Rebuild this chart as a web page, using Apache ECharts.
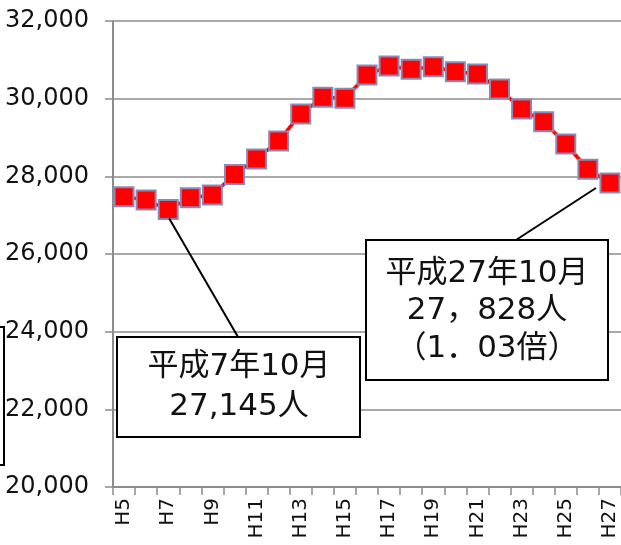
<!DOCTYPE html>
<html>
<head>
<meta charset="utf-8">
<script src="https://cdn.jsdelivr.net/npm/echarts@6/dist/echarts.min.js"></script>
<style>html,body{margin:0;padding:0;background:#fff}#c{width:621px;height:545px}</style>
</head>
<body>
<div id="c"></div>
<script>
const categories = ['H5','H6','H7','H8','H9','H10','H11','H12','H13','H14','H15','H16','H17','H18','H19','H20','H21','H22','H23','H24','H25','H26','H27'];
const population = [27476,27391,27145,27450,27520,28050,28447,28911,29606,30036,30010,30610,30842,30757,30824,30695,30636,30250,29735,29408,28833,28182,27828];
const yTicks = {min: 20000, max: 32000, interval: 2000};
const note1Lines = ['平成7年10月', '27,145人'];
const note2Lines = ['平成27年10月', '27，828人', '（1．03倍）'];

const chart = echarts.init(document.getElementById('c'), null, {renderer: 'canvas'});
const gridColor = '#8c8c8c';
chart.setOption({
  animation: false,
  backgroundColor: '#ffffff',
  grid: {left: 113, right: 0, top: 21, bottom: 58, containLabel: false},
  xAxis: {
    type: 'category',
    data: categories,
    boundaryGap: true,
    axisLine: {show: true, lineStyle: {color: gridColor, width: 2}},
    axisTick: {show: true, length: 8, interval: 0, lineStyle: {color: gridColor, width: 1.5}},
    axisLabel: {interval: 1, rotate: 90, margin: 11, fontFamily: 'DejaVu Sans', fontSize: 20, color: '#111'},
    splitLine: {show: false}
  },
  yAxis: {
    type: 'value',
    min: yTicks.min, max: yTicks.max, interval: yTicks.interval,
    axisLine: {show: true, lineStyle: {color: gridColor, width: 2}},
    axisTick: {show: true, length: 8, lineStyle: {color: gridColor, width: 1.5}},
    axisLabel: {margin: 24, fontFamily: 'DejaVu Sans', fontSize: 24, color: '#111',
      formatter: v => v.toLocaleString('en-US')},
    splitLine: {show: true, lineStyle: {color: gridColor, width: 1.5}}
  },
  series: [{
    type: 'line',
    data: population,
    symbol: 'rect',
    symbolSize: 19,
    showAllSymbol: true,
    lineStyle: {color: '#ff0000', width: 3.5},
    itemStyle: {color: '#ff0000', borderColor: '#8a8ab8', borderWidth: 2},
    z: 3
  }]
});

const p7 = chart.convertToPixel({seriesIndex: 0}, [2, population[2]]);
const p27 = chart.convertToPixel({seriesIndex: 0}, [22, population[22]]);
const txtStyle = {fontFamily: 'DejaVu Sans, Noto Sans CJK JP', fontSize: 31, fill: '#111', align: 'center', verticalAlign: 'middle'};
chart.setOption({
  graphic: [
    {type: 'line', z: 50, shape: {x1: p7[0] + 1, y1: p7[1] + 9, x2: 238, y2: 337}, style: {stroke: '#000', lineWidth: 2}},
    {type: 'line', z: 50, shape: {x1: 516, y1: 240, x2: p27[0] - 14, y2: p27[1] + 5}, style: {stroke: '#000', lineWidth: 2}},
    {type: 'rect', z: 60, shape: {x: 117, y: 337, width: 243, height: 100}, style: {fill: '#fff', stroke: '#000', lineWidth: 2}},
    {type: 'text', z: 61, style: Object.assign({text: note1Lines.join('\n'), x: 239, y: 387, lineHeight: 40}, txtStyle)},
    {type: 'rect', z: 60, shape: {x: 366, y: 240, width: 242, height: 140}, style: {fill: '#fff', stroke: '#000', lineWidth: 2}},
    {type: 'text', z: 61, style: Object.assign({text: note2Lines.join('\n'), x: 487, y: 311, lineHeight: 37.5}, txtStyle)},
    {type: 'rect', z: 60, shape: {x: -50, y: 327, width: 54, height: 138}, style: {fill: 'none', stroke: '#000', lineWidth: 2}}
  ]
});
</script>
</body>
</html>
